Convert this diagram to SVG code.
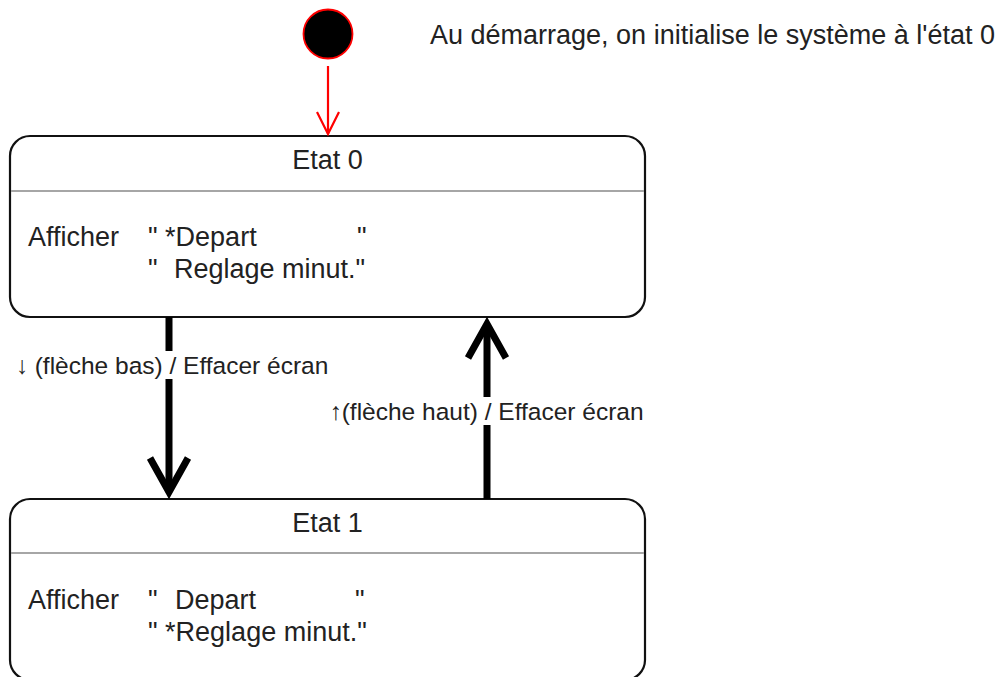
<svg xmlns="http://www.w3.org/2000/svg" width="1001" height="677" viewBox="0 0 1001 677">
<style>
text{font-family:"Liberation Sans",Arial,sans-serif;fill:#222}
.v{font-size:27px}
.e{font-size:24.5px}
.box{fill:#fff;stroke:#111;stroke-width:2.2}
.sep{stroke:#a6a6a6;stroke-width:2}
.thick{stroke:#000;stroke-width:7;fill:none}
.red{stroke:#ff0000;stroke-width:2.2;fill:none}
.lbl{fill:#fff}
</style>
<rect width="1001" height="677" fill="#fff"/>
<g id="start">
<circle cx="328" cy="34" r="24.5" fill="#000" stroke="#ff0000" stroke-width="1.8"/>
</g>
<g id="note">
<text class="v" x="430" y="44">Au démarrage, on initialise le système à l'état 0</text>
</g>
<g id="etat0">
<rect class="box" x="10" y="136" width="635" height="181" rx="20" ry="20"/>
<line class="sep" x1="11" y1="191" x2="644" y2="191"/>
<text class="v" x="327.5" y="169" text-anchor="middle">Etat 0</text>
<text class="v" x="28" y="246">Afficher</text>
<text class="v" x="148" y="246">" *Depart</text>
<text class="v" x="357" y="246">"</text>
<text class="v" x="148" y="278">"</text>
<text class="v" x="174" y="278">Reglage minut."</text>
</g>
<g id="etat1">
<rect class="box" x="10" y="499" width="635" height="181" rx="20" ry="20"/>
<line class="sep" x1="11" y1="553" x2="644" y2="553"/>
<text class="v" x="327.5" y="532" text-anchor="middle">Etat 1</text>
<text class="v" x="28" y="609">Afficher</text>
<text class="v" x="148" y="609">"</text>
<text class="v" x="175" y="609">Depart</text>
<text class="v" x="355" y="609">"</text>
<text class="v" x="148" y="641">" *Reglage minut."</text>
</g>
<g id="connectors">
<line class="red" x1="328" y1="66" x2="328" y2="134"/>
<path class="red" d="M317,112 L328,134 L339,112"/>
<line class="thick" x1="169" y1="317" x2="169" y2="492"/>
<path class="thick" d="M150,458 L169,492 L188,458"/>
<line class="thick" x1="487" y1="499" x2="487" y2="324"/>
<path class="thick" d="M468,358 L487,324 L506,358"/>
<rect class="lbl" x="12" y="351" width="320" height="28"/>
<text class="e" x="172" y="374" text-anchor="middle">↓ (flèche bas) / Effacer écran</text>
<rect class="lbl" x="326" y="397" width="322" height="28"/>
<text class="e" x="486.5" y="420" text-anchor="middle">↑(flèche haut) / Effacer écran</text>
</g>
</svg>
